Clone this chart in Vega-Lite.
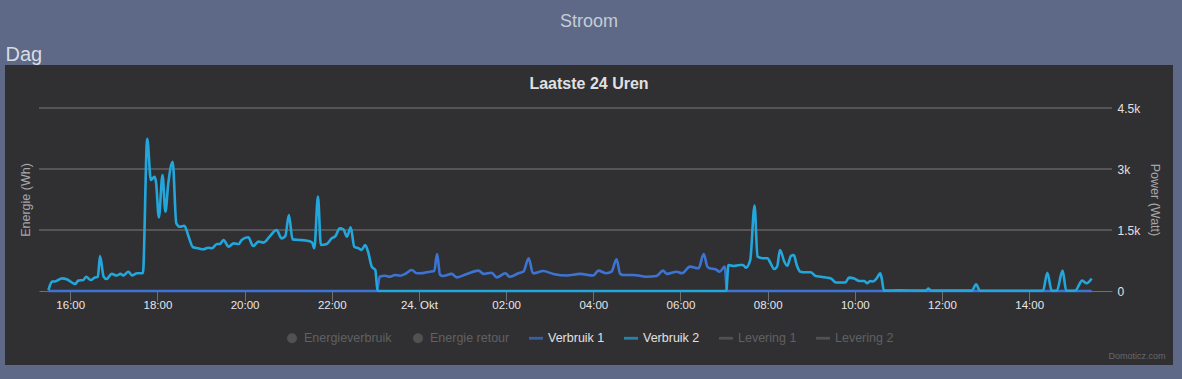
{
"$schema": "https://vega.github.io/schema/vega-lite/v6.json",
"autosize": "none",
"width": 1168, "height": 300,
"padding": {"left": 5, "top": 65, "right": 9, "bottom": 14},
"background": "#5d6986",
"config": {
  "font": "Liberation Sans",
  "view": {"stroke": null, "fill": "#303032"}
},
"title": {"text": "Stroom", "subtitle": "Laatste 24 Uren", "anchor": "middle", "frame": "group", "offset": -48,
  "font": "Liberation Sans", "fontSize": 18, "fontWeight": "normal", "color": "#c8ccd6",
  "subtitleFont": "Liberation Sans", "subtitleFontSize": 16, "subtitleFontWeight": "bold", "subtitleColor": "#e0e0e3", "subtitlePadding": 45},
"data": {"values": [
{"t":"2020-10-23T15:30Z","s":"Verbruik 1","v":0},
{"t":"2020-10-23T23:02Z","s":"Verbruik 1","v":0},
{"t":"2020-10-23T23:06Z","s":"Verbruik 1","v":350},
{"t":"2020-10-23T23:13Z","s":"Verbruik 1","v":375},
{"t":"2020-10-23T23:20Z","s":"Verbruik 1","v":350},
{"t":"2020-10-23T23:27Z","s":"Verbruik 1","v":395},
{"t":"2020-10-23T23:34Z","s":"Verbruik 1","v":375},
{"t":"2020-10-23T23:41Z","s":"Verbruik 1","v":420},
{"t":"2020-10-23T23:50Z","s":"Verbruik 1","v":515},
{"t":"2020-10-23T23:57Z","s":"Verbruik 1","v":435},
{"t":"2020-10-24T00:05Z","s":"Verbruik 1","v":440},
{"t":"2020-10-24T00:15Z","s":"Verbruik 1","v":475},
{"t":"2020-10-24T00:21Z","s":"Verbruik 1","v":490},
{"t":"2020-10-24T00:25Z","s":"Verbruik 1","v":910},
{"t":"2020-10-24T00:29Z","s":"Verbruik 1","v":400},
{"t":"2020-10-24T00:33Z","s":"Verbruik 1","v":370},
{"t":"2020-10-24T00:45Z","s":"Verbruik 1","v":420},
{"t":"2020-10-24T00:52Z","s":"Verbruik 1","v":335},
{"t":"2020-10-24T01:06Z","s":"Verbruik 1","v":420},
{"t":"2020-10-24T01:22Z","s":"Verbruik 1","v":500},
{"t":"2020-10-24T01:29Z","s":"Verbruik 1","v":420},
{"t":"2020-10-24T01:40Z","s":"Verbruik 1","v":450},
{"t":"2020-10-24T01:47Z","s":"Verbruik 1","v":335},
{"t":"2020-10-24T01:59Z","s":"Verbruik 1","v":435},
{"t":"2020-10-24T02:05Z","s":"Verbruik 1","v":350},
{"t":"2020-10-24T02:17Z","s":"Verbruik 1","v":435},
{"t":"2020-10-24T02:24Z","s":"Verbruik 1","v":480},
{"t":"2020-10-24T02:31Z","s":"Verbruik 1","v":805},
{"t":"2020-10-24T02:37Z","s":"Verbruik 1","v":435},
{"t":"2020-10-24T02:51Z","s":"Verbruik 1","v":490},
{"t":"2020-10-24T03:05Z","s":"Verbruik 1","v":420},
{"t":"2020-10-24T03:23Z","s":"Verbruik 1","v":380},
{"t":"2020-10-24T03:42Z","s":"Verbruik 1","v":420},
{"t":"2020-10-24T04:00Z","s":"Verbruik 1","v":380},
{"t":"2020-10-24T04:07Z","s":"Verbruik 1","v":500},
{"t":"2020-10-24T04:18Z","s":"Verbruik 1","v":435},
{"t":"2020-10-24T04:25Z","s":"Verbruik 1","v":475},
{"t":"2020-10-24T04:32Z","s":"Verbruik 1","v":780},
{"t":"2020-10-24T04:37Z","s":"Verbruik 1","v":420},
{"t":"2020-10-24T04:41Z","s":"Verbruik 1","v":395},
{"t":"2020-10-24T04:55Z","s":"Verbruik 1","v":395},
{"t":"2020-10-24T05:13Z","s":"Verbruik 1","v":350},
{"t":"2020-10-24T05:27Z","s":"Verbruik 1","v":370},
{"t":"2020-10-24T05:36Z","s":"Verbruik 1","v":500},
{"t":"2020-10-24T05:41Z","s":"Verbruik 1","v":420},
{"t":"2020-10-24T05:55Z","s":"Verbruik 1","v":475},
{"t":"2020-10-24T06:02Z","s":"Verbruik 1","v":435},
{"t":"2020-10-24T06:13Z","s":"Verbruik 1","v":600},
{"t":"2020-10-24T06:25Z","s":"Verbruik 1","v":560},
{"t":"2020-10-24T06:32Z","s":"Verbruik 1","v":910},
{"t":"2020-10-24T06:37Z","s":"Verbruik 1","v":600},
{"t":"2020-10-24T06:40Z","s":"Verbruik 1","v":560},
{"t":"2020-10-24T06:48Z","s":"Verbruik 1","v":535},
{"t":"2020-10-24T06:54Z","s":"Verbruik 1","v":475},
{"t":"2020-10-24T07:01Z","s":"Verbruik 1","v":600},
{"t":"2020-10-24T07:04Z","s":"Verbruik 1","v":0},
{"t":"2020-10-24T15:26Z","s":"Verbruik 1","v":0},
{"t":"2020-10-23T15:30Z","s":"Verbruik 2","v":20},
{"t":"2020-10-23T15:35Z","s":"Verbruik 2","v":230},
{"t":"2020-10-23T15:39Z","s":"Verbruik 2","v":235},
{"t":"2020-10-23T15:49Z","s":"Verbruik 2","v":310},
{"t":"2020-10-23T15:55Z","s":"Verbruik 2","v":290},
{"t":"2020-10-23T16:07Z","s":"Verbruik 2","v":175},
{"t":"2020-10-23T16:11Z","s":"Verbruik 2","v":255},
{"t":"2020-10-23T16:18Z","s":"Verbruik 2","v":270},
{"t":"2020-10-23T16:22Z","s":"Verbruik 2","v":350},
{"t":"2020-10-23T16:28Z","s":"Verbruik 2","v":270},
{"t":"2020-10-23T16:34Z","s":"Verbruik 2","v":330},
{"t":"2020-10-23T16:38Z","s":"Verbruik 2","v":350},
{"t":"2020-10-23T16:41Z","s":"Verbruik 2","v":860},
{"t":"2020-10-23T16:46Z","s":"Verbruik 2","v":350},
{"t":"2020-10-23T16:50Z","s":"Verbruik 2","v":295},
{"t":"2020-10-23T16:57Z","s":"Verbruik 2","v":420},
{"t":"2020-10-23T17:04Z","s":"Verbruik 2","v":380},
{"t":"2020-10-23T17:09Z","s":"Verbruik 2","v":420},
{"t":"2020-10-23T17:13Z","s":"Verbruik 2","v":385},
{"t":"2020-10-23T17:20Z","s":"Verbruik 2","v":475},
{"t":"2020-10-23T17:25Z","s":"Verbruik 2","v":385},
{"t":"2020-10-23T17:32Z","s":"Verbruik 2","v":435},
{"t":"2020-10-23T17:40Z","s":"Verbruik 2","v":435},
{"t":"2020-10-23T17:46Z","s":"Verbruik 2","v":3740},
{"t":"2020-10-23T17:51Z","s":"Verbruik 2","v":2730},
{"t":"2020-10-23T17:56Z","s":"Verbruik 2","v":2810},
{"t":"2020-10-23T17:58Z","s":"Verbruik 2","v":2690},
{"t":"2020-10-23T18:02Z","s":"Verbruik 2","v":1810},
{"t":"2020-10-23T18:07Z","s":"Verbruik 2","v":2850},
{"t":"2020-10-23T18:11Z","s":"Verbruik 2","v":1950},
{"t":"2020-10-23T18:15Z","s":"Verbruik 2","v":2650},
{"t":"2020-10-23T18:21Z","s":"Verbruik 2","v":3180},
{"t":"2020-10-23T18:26Z","s":"Verbruik 2","v":1665},
{"t":"2020-10-23T18:31Z","s":"Verbruik 2","v":1580},
{"t":"2020-10-23T18:37Z","s":"Verbruik 2","v":1605},
{"t":"2020-10-23T18:43Z","s":"Verbruik 2","v":1335},
{"t":"2020-10-23T18:49Z","s":"Verbruik 2","v":1075},
{"t":"2020-10-23T18:56Z","s":"Verbruik 2","v":1050},
{"t":"2020-10-23T19:03Z","s":"Verbruik 2","v":1025},
{"t":"2020-10-23T19:10Z","s":"Verbruik 2","v":1065},
{"t":"2020-10-23T19:15Z","s":"Verbruik 2","v":1050},
{"t":"2020-10-23T19:22Z","s":"Verbruik 2","v":1155},
{"t":"2020-10-23T19:26Z","s":"Verbruik 2","v":1155},
{"t":"2020-10-23T19:31Z","s":"Verbruik 2","v":1255},
{"t":"2020-10-23T19:38Z","s":"Verbruik 2","v":1090},
{"t":"2020-10-23T19:45Z","s":"Verbruik 2","v":1170},
{"t":"2020-10-23T19:52Z","s":"Verbruik 2","v":1155},
{"t":"2020-10-23T19:56Z","s":"Verbruik 2","v":1255},
{"t":"2020-10-23T20:05Z","s":"Verbruik 2","v":1320},
{"t":"2020-10-23T20:12Z","s":"Verbruik 2","v":1105},
{"t":"2020-10-23T20:19Z","s":"Verbruik 2","v":1215},
{"t":"2020-10-23T20:26Z","s":"Verbruik 2","v":1190},
{"t":"2020-10-23T20:35Z","s":"Verbruik 2","v":1350},
{"t":"2020-10-23T20:44Z","s":"Verbruik 2","v":1500},
{"t":"2020-10-23T20:51Z","s":"Verbruik 2","v":1295},
{"t":"2020-10-23T20:56Z","s":"Verbruik 2","v":1350},
{"t":"2020-10-23T21:01Z","s":"Verbruik 2","v":1870},
{"t":"2020-10-23T21:06Z","s":"Verbruik 2","v":1270},
{"t":"2020-10-23T21:16Z","s":"Verbruik 2","v":1255},
{"t":"2020-10-23T21:28Z","s":"Verbruik 2","v":1230},
{"t":"2020-10-23T21:33Z","s":"Verbruik 2","v":1190},
{"t":"2020-10-23T21:36Z","s":"Verbruik 2","v":1050},
{"t":"2020-10-23T21:41Z","s":"Verbruik 2","v":2320},
{"t":"2020-10-23T21:45Z","s":"Verbruik 2","v":1130},
{"t":"2020-10-23T21:53Z","s":"Verbruik 2","v":1155},
{"t":"2020-10-23T22:00Z","s":"Verbruik 2","v":1295},
{"t":"2020-10-23T22:05Z","s":"Verbruik 2","v":1350},
{"t":"2020-10-23T22:11Z","s":"Verbruik 2","v":1540},
{"t":"2020-10-23T22:16Z","s":"Verbruik 2","v":1515},
{"t":"2020-10-23T22:21Z","s":"Verbruik 2","v":1335},
{"t":"2020-10-23T22:26Z","s":"Verbruik 2","v":1565},
{"t":"2020-10-23T22:31Z","s":"Verbruik 2","v":1090},
{"t":"2020-10-23T22:37Z","s":"Verbruik 2","v":1050},
{"t":"2020-10-23T22:41Z","s":"Verbruik 2","v":1010},
{"t":"2020-10-23T22:46Z","s":"Verbruik 2","v":1130},
{"t":"2020-10-23T22:50Z","s":"Verbruik 2","v":965},
{"t":"2020-10-23T22:55Z","s":"Verbruik 2","v":600},
{"t":"2020-10-23T23:00Z","s":"Verbruik 2","v":515},
{"t":"2020-10-23T23:03Z","s":"Verbruik 2","v":0},
{"t":"2020-10-24T07:03Z","s":"Verbruik 2","v":0},
{"t":"2020-10-24T07:06Z","s":"Verbruik 2","v":640},
{"t":"2020-10-24T07:13Z","s":"Verbruik 2","v":615},
{"t":"2020-10-24T07:22Z","s":"Verbruik 2","v":640},
{"t":"2020-10-24T07:26Z","s":"Verbruik 2","v":640},
{"t":"2020-10-24T07:30Z","s":"Verbruik 2","v":575},
{"t":"2020-10-24T07:36Z","s":"Verbruik 2","v":760},
{"t":"2020-10-24T07:42Z","s":"Verbruik 2","v":2100},
{"t":"2020-10-24T07:46Z","s":"Verbruik 2","v":845},
{"t":"2020-10-24T07:53Z","s":"Verbruik 2","v":805},
{"t":"2020-10-24T08:00Z","s":"Verbruik 2","v":805},
{"t":"2020-10-24T08:03Z","s":"Verbruik 2","v":720},
{"t":"2020-10-24T08:09Z","s":"Verbruik 2","v":540},
{"t":"2020-10-24T08:13Z","s":"Verbruik 2","v":600},
{"t":"2020-10-24T08:17Z","s":"Verbruik 2","v":1010},
{"t":"2020-10-24T08:23Z","s":"Verbruik 2","v":720},
{"t":"2020-10-24T08:27Z","s":"Verbruik 2","v":620},
{"t":"2020-10-24T08:32Z","s":"Verbruik 2","v":860},
{"t":"2020-10-24T08:36Z","s":"Verbruik 2","v":885},
{"t":"2020-10-24T08:40Z","s":"Verbruik 2","v":640},
{"t":"2020-10-24T08:45Z","s":"Verbruik 2","v":475},
{"t":"2020-10-24T08:52Z","s":"Verbruik 2","v":460},
{"t":"2020-10-24T08:59Z","s":"Verbruik 2","v":460},
{"t":"2020-10-24T09:06Z","s":"Verbruik 2","v":370},
{"t":"2020-10-24T09:13Z","s":"Verbruik 2","v":350},
{"t":"2020-10-24T09:20Z","s":"Verbruik 2","v":330},
{"t":"2020-10-24T09:27Z","s":"Verbruik 2","v":310},
{"t":"2020-10-24T09:34Z","s":"Verbruik 2","v":210},
{"t":"2020-10-24T09:47Z","s":"Verbruik 2","v":210},
{"t":"2020-10-24T09:52Z","s":"Verbruik 2","v":330},
{"t":"2020-10-24T09:59Z","s":"Verbruik 2","v":310},
{"t":"2020-10-24T10:06Z","s":"Verbruik 2","v":245},
{"t":"2020-10-24T10:13Z","s":"Verbruik 2","v":245},
{"t":"2020-10-24T10:17Z","s":"Verbruik 2","v":190},
{"t":"2020-10-24T10:21Z","s":"Verbruik 2","v":245},
{"t":"2020-10-24T10:25Z","s":"Verbruik 2","v":235},
{"t":"2020-10-24T10:30Z","s":"Verbruik 2","v":310},
{"t":"2020-10-24T10:35Z","s":"Verbruik 2","v":435},
{"t":"2020-10-24T10:37Z","s":"Verbruik 2","v":310},
{"t":"2020-10-24T10:40Z","s":"Verbruik 2","v":10},
{"t":"2020-10-24T11:00Z","s":"Verbruik 2","v":15},
{"t":"2020-10-24T11:38Z","s":"Verbruik 2","v":10},
{"t":"2020-10-24T11:41Z","s":"Verbruik 2","v":60},
{"t":"2020-10-24T11:45Z","s":"Verbruik 2","v":10},
{"t":"2020-10-24T12:41Z","s":"Verbruik 2","v":10},
{"t":"2020-10-24T12:47Z","s":"Verbruik 2","v":165},
{"t":"2020-10-24T12:52Z","s":"Verbruik 2","v":10},
{"t":"2020-10-24T14:19Z","s":"Verbruik 2","v":5},
{"t":"2020-10-24T14:25Z","s":"Verbruik 2","v":450},
{"t":"2020-10-24T14:31Z","s":"Verbruik 2","v":5},
{"t":"2020-10-24T14:38Z","s":"Verbruik 2","v":5},
{"t":"2020-10-24T14:46Z","s":"Verbruik 2","v":500},
{"t":"2020-10-24T14:51Z","s":"Verbruik 2","v":5},
{"t":"2020-10-24T15:03Z","s":"Verbruik 2","v":5},
{"t":"2020-10-24T15:13Z","s":"Verbruik 2","v":255},
{"t":"2020-10-24T15:19Z","s":"Verbruik 2","v":190},
{"t":"2020-10-24T15:26Z","s":"Verbruik 2","v":310}
]},
"layer": [
  {
    "data": {"values": [{"g": 1500}, {"g": 3000}, {"g": 4500}]},
    "mark": {"type": "rule", "color": "#7a7a7d", "strokeWidth": 1},
    "encoding": {
      "x": {"datum": 1603466220000, "type": "temporal", "scale": {"type": "utc", "domain": [1603466220000, 1603554840000], "range": [34, 1107]}, "axis": null},
      "x2": {"datum": 1603554840000},
      "y": {"field": "g", "type": "quantitative", "scale": {"domain": [0, 4500], "range": [226, 43], "nice": false, "zero": true}, "axis": null}
    }
  },
  {
    "mark": {"type": "line", "interpolate": "monotone", "strokeWidth": 2.6},
    "encoding": {
      "x": {"field": "t", "type": "temporal",
        "scale": {"type": "utc", "domain": [1603466220000, 1603554840000], "range": [34, 1107]},
        "axis": {"orient": "bottom", "offset": -74,
          "values": [1603468800000, 1603476000000, 1603483200000, 1603490400000, 1603497600000, 1603504800000, 1603512000000, 1603519200000, 1603526400000, 1603533600000, 1603540800000, 1603548000000],
          "labelExpr": "utchours(datum.value) == 0 ? '24. Okt' : utcFormat(datum.value, '%H:%M')",
          "labelColor": "#e6e6e8", "labelFontSize": 11.5, "labelPadding": -2, "labelFlush": false, "labelOverlap": false,
          "tickColor": "#707073", "tickSize": 10, "domainColor": "#707073", "grid": false,
          "title": "Domoticz.com", "titleX": 1160, "titleY": 64, "titleAlign": "right", "titleBaseline": "middle", "titleFontSize": 9, "titleFontWeight": "normal", "titleColor": "#67676a"}},
      "y": {"field": "v", "type": "quantitative",
        "scale": {"domain": [0, 4500], "range": [226, 43], "nice": false, "zero": true},
        "axis": {"orient": "right", "offset": -61, "values": [0, 1500, 3000, 4500],
          "labelExpr": "datum.value == 0 ? '0' : (datum.value / 1000) + 'k'",
          "grid": false, "ticks": false, "domain": false,
          "labelColor": "#e0e0e3", "labelFontSize": 12, "labelPadding": 5,
          "title": "Power (Watt)", "titleColor": "#a6a6a9", "titleFontSize": 12.5, "titleFontWeight": "normal", "titlePadding": 8}},
      "color": {"field": "s", "type": "nominal",
        "scale": {"domain": ["Energieverbruik", "Energie retour", "Verbruik 1", "Verbruik 2", "Levering 1", "Levering 2"], "range": ["#5f5f62", "#5f5f62", "#3d74d4", "#22a6dc", "#5f5f62", "#5f5f62"]},
        "legend": null}
    }
  },
  {
    "transform": [{"filter": "datum.v < 0"}],
    "mark": {"type": "point", "filled": true},
    "encoding": {
      "x": {"field": "t", "type": "temporal",
        "scale": {"type": "utc", "domain": [1603466220000, 1603554840000], "range": [34, 1107]},
        "axis": {"orient": "top", "labels": false, "ticks": false, "domain": false, "grid": false,
          "title": "Dag", "titleX": 0, "titleY": -5, "titleAlign": "left", "titleAnchor": "start", "titleBaseline": "alphabetic", "titleFontSize": 20, "titleFontWeight": "normal", "titleColor": "#d8dbe3"}},
      "y": {"field": "v", "type": "quantitative",
        "scale": {"domain": [0, 4500], "range": [226, 43], "nice": false, "zero": true},
        "axis": {"orient": "left", "offset": -34, "labels": false, "ticks": false, "domain": false, "grid": false,
          "title": "Energie (Wh)", "titleColor": "#a6a6a9", "titleFontSize": 12.5, "titleFontWeight": "normal", "titlePadding": 7}},
      "color": {"field": "s", "type": "nominal",
        "scale": {"domain": ["Energieverbruik", "Energie retour", "Verbruik 1", "Verbruik 2", "Levering 1", "Levering 2"], "range": ["#5f5f62", "#5f5f62", "#3d74d4", "#22a6dc", "#5f5f62", "#5f5f62"]},
        "legend": {"orient": "none", "legendX": 280, "legendY": 266, "direction": "horizontal", "title": null,
          "labelFontSize": 12.5, "labelColor": {"expr": "datum.label == 'Verbruik 1' || datum.label == 'Verbruik 2' ? '#e0e0e3' : '#606063'"},
          "symbolSize": 196, "labelOffset": 5, "columnPadding": 19, "symbolStrokeWidth": 0}},
      "shape": {"field": "s", "type": "nominal",
        "scale": {"domain": ["Energieverbruik", "Energie retour", "Verbruik 1", "Verbruik 2", "Levering 1", "Levering 2"],
          "range": ["M0.7,0A0.7,0.7,0,1,1,-0.7,0A0.7,0.7,0,1,1,0.7,0Z", "M0.7,0A0.7,0.7,0,1,1,-0.7,0A0.7,0.7,0,1,1,0.7,0Z", "M-1,-0.2H1V0.2H-1Z", "M-1,-0.2H1V0.2H-1Z", "M-1,-0.2H1V0.2H-1Z", "M-1,-0.2H1V0.2H-1Z"]},
        "legend": {"orient": "none", "legendX": 280, "legendY": 266, "direction": "horizontal", "title": null,
          "labelFontSize": 12.5, "labelColor": {"expr": "datum.label == 'Verbruik 1' || datum.label == 'Verbruik 2' ? '#e0e0e3' : '#606063'"},
          "symbolSize": 196, "labelOffset": 5, "columnPadding": 19, "symbolStrokeWidth": 0}}
    }
  }
],
"resolve": {"axis": {"x": "independent", "y": "independent"}, "legend": {"color": "independent", "shape": "independent"}}
}
